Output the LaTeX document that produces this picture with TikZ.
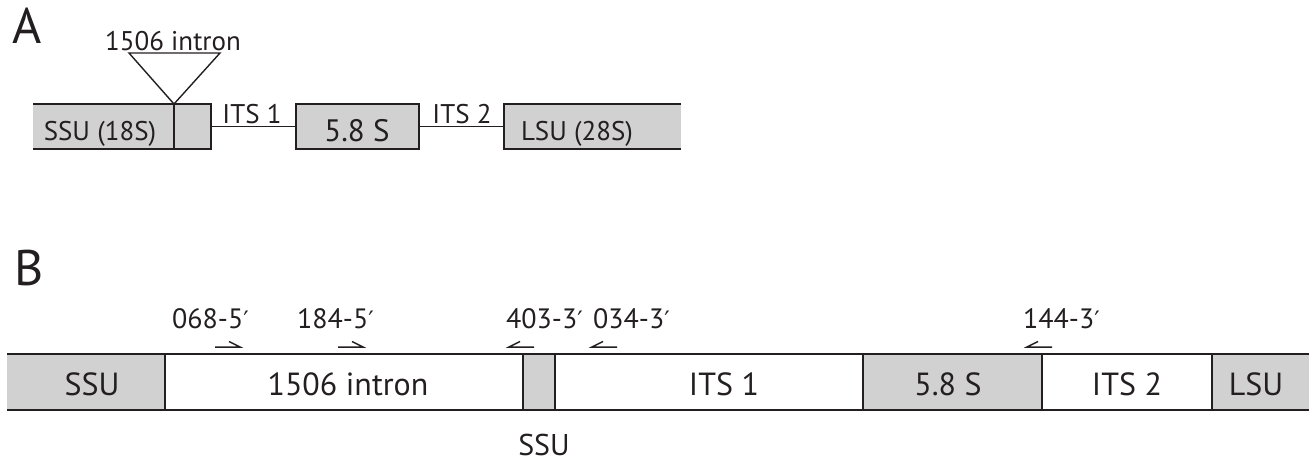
\documentclass[tikz,border=0pt]{standalone}
\usepackage{fontspec}
\setmainfont{PT Sans}
\newfontfamily\primefont{DejaVu Sans}
\newcommand{\prm}{{\primefont\fontsize{24}{28}\selectfont ′}}
\definecolor{boxgrey}{HTML}{D1D1D1}
\definecolor{ink}{HTML}{231F20}
\begin{document}
\begin{tikzpicture}[x=1pt,y=-1pt,
  panel/.style={font=\fontsize{50}{54}\selectfont, text=ink, inner sep=0pt, anchor=base west},
  labA/.style={font=\fontsize{27}{30}\selectfont, text=ink, inner sep=0pt, anchor=base},
  labB/.style={font=\fontsize{32}{36}\selectfont, text=ink, inner sep=0pt, anchor=base},
  primer/.style={font=\fontsize{28}{31}\selectfont, text=ink, inner sep=0pt, anchor=base west},
  thinline/.style={draw=ink, line width=1.4pt},
  thickline/.style={draw=ink, line width=2.8pt},
  halfarrow/.style={draw=ink, line width=1.5pt}
]
\useasboundingbox (0,0) rectangle (1309,463);

% ---------------- Panel A ----------------
\node[panel] (labelA) at (12,43) {A};
\node[labA] (intronA) at (173,50) {1506 intron};

% grey boxes
\fill[boxgrey] (33,104) rectangle (211,149);
\fill[boxgrey] (296,104) rectangle (419,149);
\fill[boxgrey] (504,104) rectangle (681,149);

% SSU box (open left end)
\draw[thinline] (33,104) -- (211,104) -- (211,149) -- (33,149);
\draw[thinline] (174,104) -- (174,149);
% 5.8S box
\draw[thinline] (296,104) rectangle (419,149);
% LSU box (open right end)
\draw[thinline] (681,104) -- (504,104) -- (504,149) -- (681,149);
% spacer lines
\coordinate (its1a) at (211,126.5);
\coordinate (its1b) at (296,126.5);
\coordinate (its2a) at (419,126.5);
\coordinate (its2b) at (504,126.5);
\draw[thinline] (its1a) -- (its1b);
\draw[thinline] (its2a) -- (its2b);

% intron triangle
\coordinate (triL) at (129,53);
\coordinate (triR) at (220,53);
\coordinate (triApex) at (174,104);
\draw[thinline, line join=miter] (triL) -- (triR) -- (triApex) -- cycle;

\node[labA] (ssuA) at (100,140) {SSU (18S)};
\node[labA] (its1A) at (252,123) {ITS 1};
\node[font=\fontsize{31}{34}\selectfont, text=ink, inner sep=0pt, anchor=base] (s58A) at (357,141) {5.8 S};
\node[labA] (its2A) at (462,123) {ITS 2};
\node[labA] (lsuA) at (577,140) {LSU (28S)};

% ---------------- Panel B ----------------
\node[panel] (labelB) at (14,285) {B};

% fills
\fill[boxgrey] (7,354) rectangle (165,410);
\fill[boxgrey] (523,354) rectangle (555,410);
\fill[boxgrey] (863,354) rectangle (1042,410);
\fill[boxgrey] (1212,354) rectangle (1309,410);

% outline
\draw[thickline] (7,354) -- (1309,354);
\draw[thickline] (7,410) -- (1309,410);
\foreach \xx in {165,523,555,863,1042,1212}{
  \draw[thickline, line width=2.6pt] (\xx,354) -- (\xx,410);
}

\node[labB] (ssuB) at (92,395) {SSU};
\node[labB] (intronB) at (348,395) {1506 intron};
\node[labB] (its1B) at (724,395) {ITS 1};
\node[labB] (s58B) at (948,395) {5.8 S};
\node[labB] (its2B) at (1127,395) {ITS 2};
\node[labB] (lsuB) at (1256,395) {LSU};
\node[font=\fontsize{30}{33}\selectfont, text=ink, inner sep=0pt, anchor=base] (ssuSmall) at (544,455) {SSU};

% primer labels
\node[primer] (p068) at (172,328) {068-5\prm};
\node[primer] (p184) at (297,328) {184-5\prm};
\node[primer] (p403) at (506,328) {403-3\prm};
\node[primer] (p034) at (593,328) {034-3\prm};
\node[primer] (p144) at (1023,328) {144-3\prm};

% primer half-arrows (forward)
\draw[halfarrow] (215,347) -- (240,347) -- (229,341.5);
\draw[halfarrow] (338,347) -- (363,347) -- (352,341.5);
% reverse
\draw[halfarrow] (534,347) -- (509,347) -- (520,341.5);
\draw[halfarrow] (617,347) -- (592,347) -- (603,341.5);
\draw[halfarrow] (1052,347) -- (1027,347) -- (1038,341.5);
\end{tikzpicture}
\end{document}
